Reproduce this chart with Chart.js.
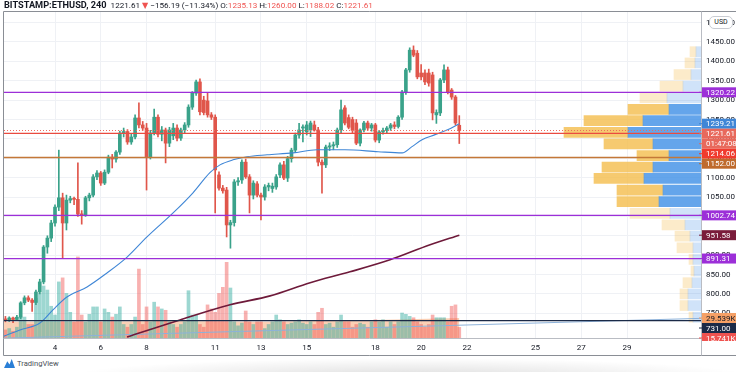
<!DOCTYPE html>
<html>
<head>
<meta charset="utf-8">
<title>BITSTAMP:ETHUSD, 240</title>
<script src="https://cdn.jsdelivr.net/npm/chart.js@4.4.1/dist/chart.umd.min.js"></script>
<style>
  html, body { margin: 0; padding: 0; background: #fff; }
  body { width: 736px; height: 372px; position: relative; overflow: hidden; font-family: Roboto, "DejaVu Sans", sans-serif; }
  #chartBox { position: absolute; left: 0; top: 0; width: 736px; height: 357px; }
  #legend { position: absolute; left: 4px; top: 0px; font-size: 8.1px; line-height: 10px; color: #131722; white-space: nowrap; }
  #legend b { font-weight: 700; font-size: 9.2px; }
  #legend .dn { color: #ef5350; }
  #usd { position: absolute; left: 709px; top: 16px; width: 22px; height: 11px; border: 1px solid #c9ccd2; border-radius: 5px; background: #fff; font-size: 7px; line-height: 11px; text-align: center; color: #131722; }
  #footer { position: absolute; left: 4px; top: 359px; font-size: 7.6px; line-height: 10px; color: #4a4f57; }
  #footer svg { vertical-align: -2px; margin-right: 2px; }
  #shade { position: absolute; left: 70px; top: 358px; width: 680px; height: 18px; background: radial-gradient(ellipse 50% 100% at 50% 100%, rgba(0,0,0,0.13), rgba(0,0,0,0)); }
</style>
</head>
<body>
<div id="chartBox"><canvas id="chart" width="736" height="357"></canvas></div>
<div id="legend"><b>BITSTAMP:ETHUSD, 240</b>&nbsp; 1221.61 <span class="dn">▼</span> −156.19 (−11.34%) O:<span class="dn">1235.13</span> H:<span class="dn">1260.00</span> L:<span class="dn">1188.02</span> C:<span class="dn">1221.61</span></div>
<div id="usd">USD</div>
<div id="shade"></div>
<div id="footer"><svg width="11" height="9" viewBox="0 0 10 8"><path d="M0 8 L3 2 L5 5 L7 0 L10 8 Z" fill="#2a7fd6"/></svg>TradingView</div>

<script>
// 4h candles, Jan 2021; x axis is in days of the month
const firstCandleDay = 1 + 20 / 24;
const dayTicks = [4, 6, 8, 11, 13, 15, 18, 20, 22, 25, 27, 29];
const priceTicks = [750, 800, 850, 900, 950, 1000, 1050, 1100, 1150, 1200, 1250, 1300, 1350, 1400, 1450, 1500];

const candleOpen = [735, 733, 738, 734, 740, 777, 790, 784, 778, 805,
    831, 921, 944, 983, 1024, 1048, 983, 1042, 1046, 1044,
    1006, 1004, 1048, 1055, 1102, 1112, 1086, 1114, 1153, 1148,
    1166, 1215, 1219, 1192, 1205, 1254, 1236, 1228, 1153, 1215,
    1256, 1212, 1223, 1189, 1208, 1228, 1202, 1223, 1236, 1282,
    1318, 1347, 1300, 1298, 1262, 1256, 1107, 1073, 1068, 978,
    984, 1089, 1094, 1140, 1102, 1055, 1084, 1055, 1050, 1076,
    1072, 1076, 1107, 1133, 1099, 1149, 1171, 1210, 1228, 1218,
    1223, 1236, 1223, 1140, 1133, 1179, 1182, 1185, 1223, 1280,
    1255, 1250, 1241, 1189, 1223, 1241, 1228, 1236, 1197, 1218,
    1222, 1228, 1236, 1232, 1256, 1321, 1378, 1429, 1421, 1370,
    1370, 1370, 1365, 1262, 1267, 1352, 1378, 1326, 1308, 1235.13];
const candleHigh = [742, 741, 740, 745, 780, 795, 795, 788, 810, 838,
    925, 950, 990, 1030, 1171, 1060, 1055, 1052, 1050, 1138,
    1015, 1052, 1060, 1108, 1118, 1116, 1120, 1158, 1160, 1170,
    1220, 1228, 1224, 1212, 1262, 1293, 1245, 1240, 1222, 1277,
    1262, 1232, 1228, 1230, 1240, 1236, 1228, 1242, 1288, 1322,
    1352, 1355, 1310, 1318, 1268, 1262, 1115, 1080, 1075, 990,
    1095, 1100, 1146, 1148, 1108, 1092, 1090, 1060, 1082, 1086,
    1086, 1108, 1138, 1142, 1155, 1176, 1215, 1240, 1236, 1245,
    1246, 1246, 1230, 1146, 1184, 1190, 1192, 1228, 1300, 1286,
    1262, 1256, 1250, 1226, 1245, 1246, 1240, 1240, 1222, 1228,
    1232, 1240, 1244, 1260, 1325, 1382, 1435, 1440, 1428, 1392,
    1378, 1380, 1372, 1275, 1356, 1391, 1385, 1330, 1312, 1260];
const candleLow = [728, 729, 726, 731, 736, 772, 780, 755, 772, 800,
    826, 905, 935, 975, 1015, 893, 965, 1035, 1030, 1000,
    980, 1000, 1040, 1050, 1095, 1080, 1082, 1110, 1125, 1140,
    1160, 1205, 1186, 1186, 1200, 1228, 1222, 1068, 1148, 1210,
    1205, 1195, 1138, 1180, 1198, 1195, 1196, 1215, 1230, 1276,
    1312, 1262, 1262, 1256, 1250, 1009, 1068, 1060, 947, 918,
    975, 1080, 1085, 1098, 1009, 1045, 1050, 991, 1042, 1066,
    1062, 1070, 1100, 1095, 1090, 1140, 1165, 1202, 1192, 1210,
    1206, 1220, 1130, 1060, 1126, 1170, 1172, 1178, 1215, 1236,
    1226, 1216, 1185, 1182, 1218, 1222, 1220, 1192, 1190, 1212,
    1216, 1222, 1226, 1228, 1250, 1315, 1372, 1412, 1355, 1352,
    1340, 1336, 1249, 1240, 1260, 1345, 1316, 1302, 1236, 1188.02];
const candleClose = [733, 738, 734, 740, 777, 790, 784, 778, 805, 831,
    921, 944, 983, 1024, 1048, 983, 1042, 1046, 1044, 1006,
    1004, 1048, 1055, 1102, 1112, 1086, 1114, 1153, 1148, 1166,
    1215, 1219, 1192, 1205, 1254, 1236, 1228, 1153, 1215, 1256,
    1212, 1223, 1189, 1223, 1228, 1202, 1223, 1236, 1282, 1318,
    1347, 1270, 1268, 1262, 1256, 1120, 1073, 1066, 978, 984,
    1089, 1092, 1140, 1102, 1055, 1086, 1055, 1050, 1076, 1080,
    1078, 1102, 1133, 1099, 1149, 1171, 1210, 1223, 1231, 1236,
    1241, 1223, 1140, 1133, 1179, 1182, 1185, 1223, 1275, 1241,
    1230, 1222, 1189, 1223, 1241, 1228, 1236, 1197, 1218, 1222,
    1228, 1236, 1232, 1256, 1321, 1378, 1429, 1416, 1360, 1360,
    1347, 1344, 1267, 1268, 1352, 1378, 1321, 1308, 1241, 1221.61];
// volume in thousands
const volumeK = [12, 14, 10, 16, 31, 31, 20, 20, 59, 66,
    77, 71, 47, 34, 83, 89, 66, 38, 24, 120,
    34, 24, 35, 46, 46, 24, 43, 38, 31, 35,
    46, 20, 16, 20, 31, 102, 20, 46, 24, 53,
    46, 43, 41, 24, 20, 16, 20, 24, 70, 34,
    34, 20, 16, 49, 43, 38, 66, 75, 112, 74,
    24, 18, 22, 40, 24, 20, 24, 24, 14, 20,
    24, 34, 27, 24, 20, 22, 24, 27, 22, 20,
    24, 20, 38, 44, 20, 22, 16, 24, 34, 24,
    24, 16, 20, 22, 20, 16, 24, 27, 24, 27,
    16, 24, 20, 24, 37, 35, 32, 30, 24, 20,
    16, 20, 34, 30, 30, 30, 24, 47, 49, 15.741];

// moving averages
const maFastDays = [1.77, 2.47, 3.34, 3.91, 4.52, 5.40, 6.27, 7.15, 8.02, 9.16, 10.03, 10.77, 11.21, 11.78, 12.39, 13.27, 14.40, 15.45, 16.67, 18.12, 19.17, 19.60, 20.04, 20.61, 21.18, 21.67];
const maFastValues = [691, 707, 725, 759, 792, 818, 854, 895, 947, 1009, 1061, 1113, 1133, 1146, 1154, 1159, 1164, 1172, 1172, 1167, 1164, 1180, 1198, 1211, 1224, 1239.21];
const maSlowDays = [7.15, 9.46, 11.65, 13.40, 15.15, 16.89, 18.64, 20.39, 21.67];
const maSlowValues = [689, 733, 772, 795, 829, 857, 888, 927, 951.58];
const volMaDays = [1.77, 5, 9, 13, 17, 21.67];
const volMaValues = [24, 24, 25, 24, 26, 29.539];
const trendDays = [1.77, 32.23];
const trendValues = [686, 737];

// horizontal levels
const levelValues = [1320.22, 1214.06, 1152.00, 1002.74, 891.31, 731.00];
const countdownText = '01:47:08';

// visible range volume profile
const profPrices = [740, 770, 800, 829, 859, 889, 919, 949, 978, 1008, 1038, 1068, 1098, 1127, 1157, 1187, 1217, 1247, 1276, 1306, 1336, 1366, 1396, 1425];
const profUp = [8, 13, 13, 9, 7, 8, 8, 11, 16, 31, 42, 38, 57, 48, 32, 48, 73, 58, 32, 34, 18, 10, 6, 5];
const profDown = [4, 8, 8, 9, 3, 4, 16, 15, 23, 40, 42, 46, 50, 51, 32, 49, 64, 59, 41, 27, 23, 17, 10, 6];
const valueAreaRows = [10, 18];

// scale ranges
const xMin = 1.771, xMax = 32.23;
const yMin = 686.3, yMax = 1527.4;
const volMax = 482.5;
const profMax = 697;

const textColor = '#131722';
const gridColor = '#eff1f5';
const upColor = '#3aa28a';
const downColor = '#e0564b';
const purple = '#9c2fd8';
const levelColors = [purple, '#ea4b40', '#c47838', purple, purple, '#1b2a47'];

Chart.defaults.font.family = 'Roboto, "DejaVu Sans", sans-serif';

const candleDays = candleOpen.map((o, i) => firstCandleDay + i * 4 / 24);
const isUp = candleOpen.map((o, i) => candleClose[i] >= o);
const lastPrice = candleClose[candleClose.length - 1];

const pts = (xs, ys) => xs.map((x, i) => ({ x: x, y: ys[i] }));
const inVA = k => k >= valueAreaRows[0] && k <= valueAreaRows[1];

const levelSets = levelValues.map((v, k) => ({
    type: 'line',
    data: [{ x: xMin, y: v }, { x: xMax, y: v }],
    borderColor: levelColors[k],
    borderWidth: k === 5 ? 1.4 : 1.3,
    pointRadius: 0
}));

const datasets = [
    {
        type: 'line',
        data: [{ x: xMin, y: lastPrice }, { x: xMax, y: lastPrice }],
        borderColor: '#ef6a5e',
        borderWidth: 1,
        borderDash: [1, 2],
        pointRadius: 0
    },
    ...levelSets,
    {
        type: 'line',
        data: pts(maFastDays, maFastValues),
        borderColor: '#3f86d6',
        borderWidth: 1.1,
        pointRadius: 0,
        cubicInterpolationMode: 'monotone'
    },
    {
        type: 'line',
        data: pts(maSlowDays, maSlowValues),
        borderColor: '#6e1a3a',
        borderWidth: 1.6,
        pointRadius: 0,
        cubicInterpolationMode: 'monotone'
    },
    {
        type: 'bar',
        data: candleDays.map((d, i) => ({ x: d, y: [candleOpen[i], candleClose[i]] })),
        backgroundColor: isUp.map(u => u ? upColor : downColor),
        barThickness: 3,
        minBarLength: 1,
        grouped: false
    },
    {
        type: 'bar',
        data: candleDays.map((d, i) => ({ x: d, y: [candleLow[i], candleHigh[i]] })),
        backgroundColor: isUp.map(u => u ? upColor : downColor),
        barThickness: 1,
        grouped: false
    },
    {
        type: 'line',
        data: pts(trendDays, trendValues),
        borderColor: '#8db2da',
        borderWidth: 1,
        pointRadius: 0
    },
    {
        type: 'bar',
        yAxisID: 'yv',
        data: candleDays.map((d, i) => ({ x: d, y: volumeK[i] })),
        backgroundColor: isUp.map(u => u ? 'rgba(38,166,154,0.45)' : 'rgba(239,83,80,0.45)'),
        barThickness: 3,
        grouped: false
    },
    {
        type: 'line',
        yAxisID: 'yv',
        data: pts(volMaDays, volMaValues),
        borderWidth: 0,
        pointRadius: 0,
        fill: 'origin',
        backgroundColor: 'rgba(247,150,90,0.45)'
    },
    {
        type: 'bar',
        indexAxis: 'y',
        xAxisID: 'xp',
        yAxisID: 'yp',
        data: profPrices.map((p, k) => ({ y: p, x: [0, profUp[k]] })),
        backgroundColor: profPrices.map((p, k) => inVA(k) ? 'rgba(66,145,230,0.82)' : 'rgba(66,145,230,0.25)'),
        barThickness: 10,
        grouped: false
    },
    {
        type: 'bar',
        indexAxis: 'y',
        xAxisID: 'xp',
        yAxisID: 'yp',
        data: profPrices.map((p, k) => ({ y: p, x: [profUp[k], profUp[k] + profDown[k]] })),
        backgroundColor: profPrices.map((p, k) => inVA(k) ? 'rgba(244,190,80,0.82)' : 'rgba(244,190,80,0.3)'),
        barThickness: 10,
        grouped: false
    }
];

// labels on the price axis
const fmtK = v => v.toFixed(3) + 'K';
const priceTags = [
    { axis: 'y', value: levelValues[0], text: levelValues[0].toFixed(2), bg: purple },
    { axis: 'y', value: maFastValues[maFastValues.length - 1], text: maFastValues[maFastValues.length - 1].toFixed(2), bg: '#3f86d6' },
    { axis: 'y', value: lastPrice, text: lastPrice.toFixed(2), bg: '#e8695c', rank: 0 },
    { axis: 'y', value: lastPrice, text: countdownText, bg: '#e8695c', rank: 1 },
    { axis: 'y', value: levelValues[1], text: levelValues[1].toFixed(2), bg: '#f03b2e' },
    { axis: 'y', value: levelValues[2], text: levelValues[2].toFixed(2), bg: '#bf6a2c' },
    { axis: 'y', value: levelValues[3], text: levelValues[3].toFixed(2), bg: purple },
    { axis: 'y', value: maSlowValues[maSlowValues.length - 1], text: maSlowValues[maSlowValues.length - 1].toFixed(2), bg: '#7a1c3b' },
    { axis: 'y', value: levelValues[4], text: levelValues[4].toFixed(2), bg: purple },
    { axis: 'yv', value: volMaValues[volMaValues.length - 1], text: fmtK(volMaValues[volMaValues.length - 1]), bg: '#f5a066', fg: '#131722' },
    { axis: 'y', value: levelValues[5], text: levelValues[5].toFixed(2), bg: '#1b2a47' },
    { axis: 'yv', value: volumeK[volumeK.length - 1], text: fmtK(volumeK[volumeK.length - 1]), bg: '#ef5350' }
];

const tagPlugin = {
    id: 'priceTags',
    afterDraw(chart) {
        const { ctx, chartArea, scales } = chart;
        const h = 10;
        const items = priceTags.map(t => ({ ...t, y: scales[t.axis].getPixelForValue(t.value) }));
        items.sort((a, b) => (a.y - b.y) || ((a.rank || 0) - (b.rank || 0)));
        for (let i = 1; i < items.length; i++) {
            if (items[i].y < items[i - 1].y + h) items[i].y = items[i - 1].y + h;
        }
        let limit = chartArea.bottom;
        for (let i = items.length - 1; i >= 0; i--) {
            if (items[i].y > limit) items[i].y = limit;
            limit = items[i].y - h;
        }
        ctx.save();
        ctx.beginPath();
        ctx.rect(0, chartArea.top, 736, chartArea.bottom - chartArea.top + 3);
        ctx.clip();
        ctx.font = '8px Roboto, "DejaVu Sans", sans-serif';
        ctx.textBaseline = 'middle';
        items.forEach(t => {
            ctx.fillStyle = t.bg;
            ctx.fillRect(chartArea.right + 1, t.y - h / 2, 34, h);
            ctx.fillRect(chartArea.right - 2, t.y - 0.5, 3, 1);
            ctx.fillStyle = t.fg || '#ffffff';
            ctx.fillText(t.text, chartArea.right + 5, t.y + 0.5);
        });
        ctx.restore();
    }
};

const framePlugin = {
    id: 'frame',
    afterDraw(chart) {
        const { ctx, chartArea } = chart;
        ctx.save();
        ctx.lineWidth = 1;
        ctx.strokeStyle = '#8a8e95';
        ctx.beginPath();
        ctx.moveTo(3.5, 11.5); ctx.lineTo(736, 11.5);
        ctx.moveTo(3.5, 11.5); ctx.lineTo(3.5, 355.5);
        ctx.moveTo(3.5, 355.5); ctx.lineTo(736, 355.5);
        ctx.stroke();
        ctx.strokeStyle = '#b9bcc3';
        ctx.beginPath();
        ctx.moveTo(chartArea.right + 0.5, 11.5); ctx.lineTo(chartArea.right + 0.5, 355.5);
        ctx.moveTo(3.5, chartArea.bottom + 0.5); ctx.lineTo(736, chartArea.bottom + 0.5);
        ctx.stroke();
        ctx.restore();
    }
};

new Chart(document.getElementById('chart'), {
    type: 'bar',
    data: { datasets: datasets },
    plugins: [framePlugin, tagPlugin],
    options: {
        responsive: false,
        devicePixelRatio: 1,
        animation: false,
        events: [],
        layout: { padding: { left: 4, top: 12, right: 0, bottom: 0 } },
        plugins: { legend: { display: false }, tooltip: { enabled: false } },
        scales: {
            x: {
                type: 'linear', position: 'bottom', min: xMin, max: xMax, offset: false,
                grid: { color: gridColor, drawTicks: false, offset: false },
                border: { display: false },
                ticks: { autoSkip: false, maxRotation: 0, padding: 5, color: textColor, font: { size: 8 }, callback: v => String(v) },
                afterBuildTicks: s => { s.ticks = dayTicks.map(v => ({ value: v })); },
                afterFit: s => { s.height = 19; }
            },
            y: {
                type: 'linear', position: 'right', min: yMin, max: yMax, beginAtZero: false, offset: false,
                grid: { color: gridColor, drawTicks: false },
                border: { display: false },
                ticks: { autoSkip: false, padding: 5, color: textColor, font: { size: 8 }, callback: v => Number(v).toFixed(2) },
                afterBuildTicks: s => { s.ticks = priceTicks.map(v => ({ value: v })); },
                afterFit: s => { s.width = 35; }
            },
            yv: { type: 'linear', axis: 'y', display: false, min: 0, max: volMax, offset: false },
            xp: { type: 'linear', axis: 'x', display: false, reverse: true, min: 0, max: profMax, offset: false },
            yp: { type: 'linear', axis: 'y', display: false, min: yMin, max: yMax, offset: false }
        }
    }
});
</script>
</body>
</html>
